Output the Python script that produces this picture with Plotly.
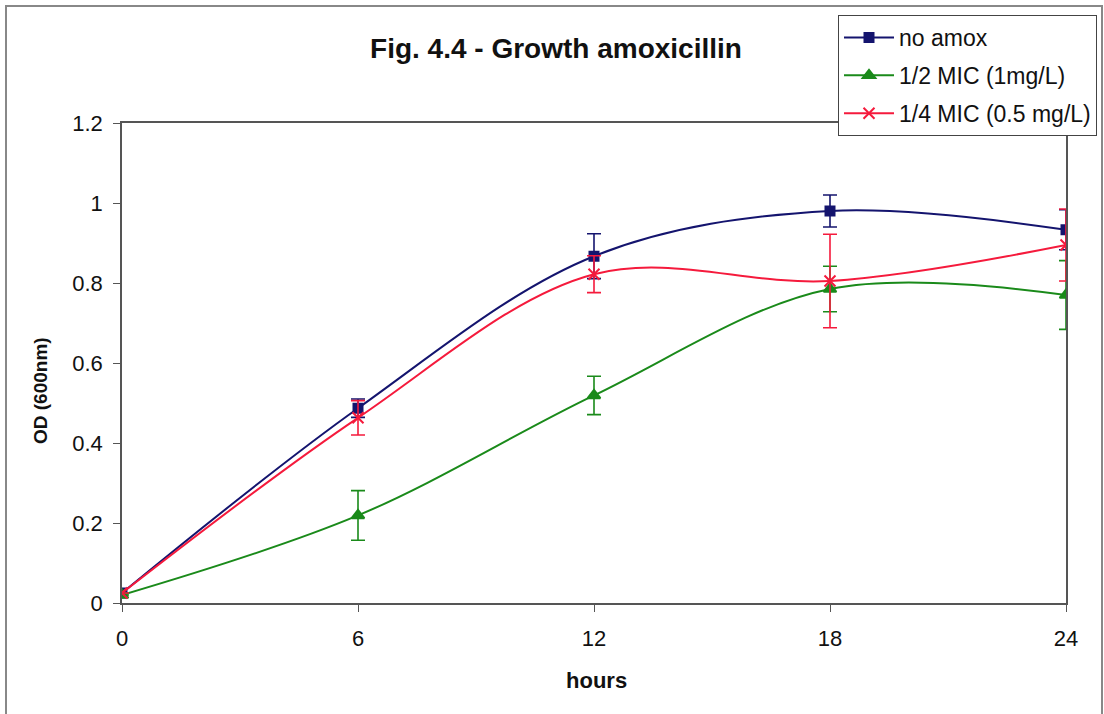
import plotly.graph_objects as go

hours = [0, 6, 12, 18, 24]

no_amox = [0.025, 0.487, 0.867, 0.98, 0.933]
no_amox_err = [0.0, 0.023, 0.056, 0.04, 0.05]

half_mic = [0.02, 0.219, 0.519, 0.785, 0.77]
half_mic_err = [0.0, 0.062, 0.048, 0.057, 0.086]

quarter_mic = [0.025, 0.463, 0.822, 0.805, 0.895]
quarter_mic_err = [0.0, 0.043, 0.046, 0.117, 0.09]

series = [
    ("no amox", no_amox, no_amox_err, "#14146e", "square", 9),
    ("1/2 MIC (1mg/L)", half_mic, half_mic_err, "#1a8a1a", "triangle-up", 11),
    ("1/4 MIC (0.5 mg/L)", quarter_mic, quarter_mic_err, "#f51a3c", "x-thin", 11),
]

FONT = "Liberation Sans, Arial, sans-serif"
INK = "#111111"

# plot-area geometry in pixels, used to place titles
L, R, T, B = 122, 38, 123, 111
PW, PH = 1104 - L - R, 714 - T - B

fig = go.Figure()
for i, (name, ys, err, color, sym, size) in enumerate(series):
    fig.add_trace(go.Scatter(
        x=hours, y=ys, name=name, legendgroup=f"g{i}",
        mode="lines+markers",
        line=dict(color=color, width=2, shape="spline", smoothing=1.0),
        marker=dict(symbol=sym, size=size, color=color,
                    line=dict(color=color, width=2)),
        error_y=dict(type="data", array=err, visible=True, color=color,
                     thickness=1.6, width=7),
    ))

fig.update_layout(
    width=1104, height=714,
    margin=dict(l=L, r=R, t=T, b=B, autoexpand=False),
    paper_bgcolor="white", plot_bgcolor="white",
    font=dict(family=FONT, color=INK, size=22),
    title=dict(text="<b>Fig. 4.4 - Growth amoxicillin</b>", x=556 / 1104, xref="container",
               xanchor="center", y=1 - 48 / 714, yanchor="middle",
               font=dict(size=28, family=FONT, color=INK)),
    showlegend=True,
    legend=dict(x=(838 - L) / PW, y=(603 - 15) / PH, xanchor="left", yanchor="top",
                bgcolor="white", bordercolor="#444444", borderwidth=1,
                font=dict(size=23, family=FONT, color=INK), tracegroupgap=5,
                traceorder="grouped", itemwidth=50),
)

fig.update_xaxes(
    range=[0, 24], tickvals=hours, ticktext=[str(h) for h in hours],
    ticks="outside", ticklen=7, tickcolor="#555555", ticklabelstandoff=8,
    showline=True, linecolor="#555555", linewidth=1.5, mirror=True,
    showgrid=False, zeroline=False,
    tickfont=dict(size=22),
)
fig.update_yaxes(
    range=[0, 1.2], tickvals=[0, 0.2, 0.4, 0.6, 0.8, 1, 1.2],
    ticktext=["0", "0.2", "0.4", "0.6", "0.8", "1", "1.2"],
    ticks="outside", ticklen=7, tickcolor="#555555", ticklabelstandoff=6,
    showline=True, linecolor="#555555", linewidth=1.5, mirror=True,
    showgrid=False, zeroline=False,
    tickfont=dict(size=22),
)

# axis titles
fig.add_annotation(text="<b>hours</b>", xref="paper", yref="paper",
                   x=(596 - L) / PW, y=(603 - 680) / PH, showarrow=False,
                   xanchor="center", yanchor="middle",
                   font=dict(size=22, family=FONT, color=INK))
fig.add_annotation(text="<b>OD (600nm)</b>", xref="paper", yref="paper",
                   x=(40 - L) / PW, y=(603 - 391) / PH, showarrow=False,
                   textangle=-90, xanchor="center", yanchor="middle",
                   font=dict(size=19, family=FONT, color=INK))

# outer chart-area frame
fig.add_shape(type="rect", xref="paper", yref="paper",
              x0=(6 - L) / PW, x1=(1102 - L) / PW,
              y0=(603 - 730) / PH, y1=(603 - 6) / PH,
              line=dict(color="#888888", width=2), fillcolor="rgba(0,0,0,0)",
              layer="below")

fig.write_html("out.html")
